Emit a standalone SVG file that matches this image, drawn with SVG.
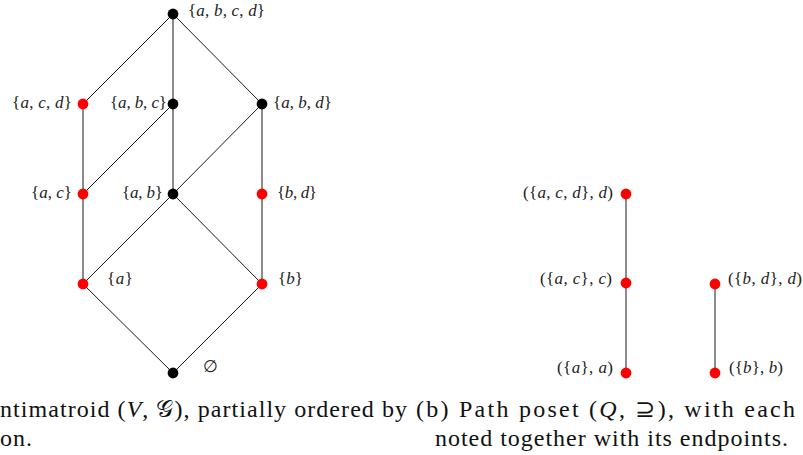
<svg xmlns="http://www.w3.org/2000/svg" width="803" height="455" viewBox="0 0 803 455">
<style>
.bg{fill:#ffffff}
.edge{stroke:#1a1a1a;stroke-width:1;fill:none}
.blk{fill:#000000}
.red{fill:#ff0000}
.lbl{font-family:'Liberation Serif',serif;font-size:17px;fill:#222222}
.cap{font-family:'Liberation Serif',serif;font-size:24px;fill:#111111}
.it{font-style:italic}
</style>
<rect class="bg" x="0" y="0" width="803" height="455"/>
<g id="connectors">
<line class="edge" x1="173" y1="14" x2="83" y2="104"/>
<line class="edge" x1="173" y1="14" x2="173" y2="104"/>
<line class="edge" x1="173" y1="14" x2="262" y2="104"/>
<line class="edge" x1="83" y1="104" x2="83" y2="194"/>
<line class="edge" x1="173" y1="104" x2="83" y2="194"/>
<line class="edge" x1="173" y1="104" x2="173" y2="194"/>
<line class="edge" x1="262" y1="104" x2="173" y2="194"/>
<line class="edge" x1="262" y1="104" x2="262" y2="194"/>
<line class="edge" x1="83" y1="194" x2="83" y2="284"/>
<line class="edge" x1="173" y1="194" x2="83" y2="284"/>
<line class="edge" x1="173" y1="194" x2="262" y2="284"/>
<line class="edge" x1="262" y1="194" x2="262" y2="284"/>
<line class="edge" x1="83" y1="284" x2="173" y2="373"/>
<line class="edge" x1="262" y1="284" x2="173" y2="373"/>
<line class="edge" x1="626" y1="194" x2="626" y2="283"/>
<line class="edge" x1="626" y1="283" x2="626" y2="373"/>
<line class="edge" x1="715" y1="284" x2="715" y2="373"/>
</g>
<g id="n_abcd"><circle class="blk" cx="173" cy="14" r="5.4"/><text class="lbl" x="188" y="16" textLength="77">{<tspan class="it">a</tspan>, <tspan class="it">b</tspan>, <tspan class="it">c</tspan>, <tspan class="it">d</tspan>}</text></g>
<g id="n_acd"><circle class="red" cx="83" cy="104" r="5.4"/><text class="lbl" x="12" y="108" textLength="60">{<tspan class="it">a</tspan>, <tspan class="it">c</tspan>, <tspan class="it">d</tspan>}</text></g>
<g id="n_abc"><circle class="blk" cx="173" cy="104" r="5.4"/><text class="lbl" x="110" y="108" textLength="57">{<tspan class="it">a</tspan>, <tspan class="it">b</tspan>, <tspan class="it">c</tspan>}</text></g>
<g id="n_abd"><circle class="blk" cx="262" cy="104" r="5.4"/><text class="lbl" x="273" y="108" textLength="59">{<tspan class="it">a</tspan>, <tspan class="it">b</tspan>, <tspan class="it">d</tspan>}</text></g>
<g id="n_ac"><circle class="red" cx="83" cy="194" r="5.4"/><text class="lbl" x="31" y="198" textLength="41">{<tspan class="it">a</tspan>, <tspan class="it">c</tspan>}</text></g>
<g id="n_ab"><circle class="blk" cx="173" cy="194" r="5.4"/><text class="lbl" x="122" y="198" textLength="41">{<tspan class="it">a</tspan>, <tspan class="it">b</tspan>}</text></g>
<g id="n_bd"><circle class="red" cx="262" cy="194" r="5.4"/><text class="lbl" x="277" y="198" textLength="40">{<tspan class="it">b</tspan>, <tspan class="it">d</tspan>}</text></g>
<g id="n_a"><circle class="red" cx="83" cy="284" r="5.4"/><text class="lbl" x="107" y="284" textLength="26">{<tspan class="it">a</tspan>}</text></g>
<g id="n_b"><circle class="red" cx="262" cy="284" r="5.4"/><text class="lbl" x="278" y="284" textLength="25">{<tspan class="it">b</tspan>}</text></g>
<g id="n_empty"><circle class="blk" cx="173" cy="373" r="5.4"/><text class="lbl" x="203" y="372">∅</text></g>
<g id="q_acd"><circle class="red" cx="626" cy="194" r="5.4"/><text class="lbl" x="523" y="198" textLength="90">({<tspan class="it">a</tspan>, <tspan class="it">c</tspan>, <tspan class="it">d</tspan>}, <tspan class="it">d</tspan>)</text></g>
<g id="q_ac"><circle class="red" cx="626" cy="283" r="5.4"/><text class="lbl" x="540" y="284" textLength="72">({<tspan class="it">a</tspan>, <tspan class="it">c</tspan>}, <tspan class="it">c</tspan>)</text></g>
<g id="q_a"><circle class="red" cx="626" cy="373" r="5.4"/><text class="lbl" x="557" y="373" textLength="56">({<tspan class="it">a</tspan>}, <tspan class="it">a</tspan>)</text></g>
<g id="q_bd"><circle class="red" cx="715" cy="284" r="5.4"/><text class="lbl" x="728" y="284" textLength="74">({<tspan class="it">b</tspan>, <tspan class="it">d</tspan>}, <tspan class="it">d</tspan>)</text></g>
<g id="q_b"><circle class="red" cx="715" cy="373" r="5.4"/><text class="lbl" x="729" y="373" textLength="54">({<tspan class="it">b</tspan>}, <tspan class="it">b</tspan>)</text></g>
<g id="captions">
<text class="cap" x="0" y="417" textLength="407">ntimatroid (<tspan class="it">V</tspan>, 𝒢), partially ordered by</text>
<text class="cap" x="0" y="446" textLength="32">on.</text>
<text class="cap" x="416" y="417" textLength="379">(b) Path poset (<tspan class="it">Q</tspan>, ⊇), with each</text>
<text class="cap" x="435" y="446" textLength="353">noted together with its endpoints.</text>
</g>
</svg>
